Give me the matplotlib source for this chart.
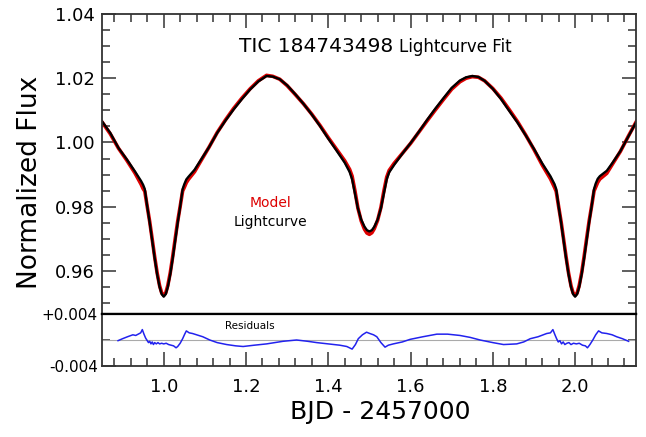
import matplotlib
matplotlib.use("Agg")
import matplotlib.pyplot as plt
from matplotlib.ticker import MultipleLocator, FixedLocator

# phase/time grid (BJD - 2457000), lightcurve and model
bjd = [0.850, 0.870, 0.890, 0.910, 0.930, 0.945, 0.950, 0.954, 0.960, 0.966,
       0.972, 0.978, 0.984, 0.990, 0.995, 1.000, 1.005, 1.010, 1.016, 1.022,
       1.028, 1.034, 1.040, 1.046, 1.050, 1.055, 1.060, 1.075, 1.090, 1.110,
       1.130, 1.150, 1.170, 1.190, 1.210, 1.230, 1.250, 1.265, 1.282, 1.300,
       1.320, 1.340, 1.360, 1.380, 1.400, 1.420, 1.440, 1.452, 1.458, 1.465,
       1.472, 1.480, 1.488, 1.494, 1.500, 1.506, 1.512, 1.520, 1.528, 1.535,
       1.542, 1.548, 1.560, 1.580, 1.600, 1.620, 1.640, 1.660, 1.680, 1.700,
       1.720, 1.735, 1.750, 1.765, 1.780, 1.800, 1.820, 1.840, 1.860, 1.880,
       1.900, 1.920, 1.940, 1.950, 1.954, 1.960, 1.966, 1.972, 1.978, 1.984,
       1.990, 1.995, 2.000, 2.005, 2.010, 2.016, 2.022, 2.028, 2.034, 2.040,
       2.046, 2.050, 2.055, 2.060, 2.077, 2.090, 2.110, 2.130, 2.150]

lightcurve = [1.0066, 1.0030, 0.9983, 0.9948, 0.9910, 0.9880, 0.9868, 0.9855, 0.9800, 0.9750,
              0.9695, 0.9640, 0.9590, 0.9550, 0.9528, 0.9520, 0.9528, 0.9550, 0.9590, 0.9640,
              0.9695, 0.9750, 0.9800, 0.9855, 0.9870, 0.9885, 0.9893, 0.9915, 0.9945, 0.9985,
              1.0030, 1.0068, 1.0103, 1.0135, 1.0165, 1.0190, 1.0207, 1.0205, 1.0197, 1.0178,
              1.0150, 1.0120, 1.0087, 1.0051, 1.0012, 0.9975, 0.9937, 0.9908, 0.9885, 0.9840,
              0.9795, 0.9760, 0.9738, 0.9727, 0.9723, 0.9727, 0.9738, 0.9760, 0.9795, 0.9840,
              0.9885, 0.9907, 0.9930, 0.9965, 0.9998, 1.0033, 1.0070, 1.0105, 1.0138, 1.0170,
              1.0193, 1.0203, 1.0207, 1.0204, 1.0192, 1.0167, 1.0135, 1.0098, 1.0062, 1.0022,
              0.9980, 0.9935, 0.9895, 0.9870, 0.9855, 0.9800, 0.9750, 0.9695, 0.9640, 0.9590,
              0.9550, 0.9528, 0.9520, 0.9528, 0.9550, 0.9590, 0.9640, 0.9695, 0.9750, 0.9800,
              0.9855, 0.9872, 0.9887, 0.9895, 0.9912, 0.9935, 0.9973, 1.0020, 1.0067]

model = [1.0064, 1.0027, 0.9982, 0.9945, 0.9905, 0.9870, 0.9856, 0.9848, 0.9800, 0.9753,
         0.9699, 0.9644, 0.9594, 0.9554, 0.9532, 0.9524, 0.9532, 0.9555, 0.9595, 0.9646,
         0.9701, 0.9755, 0.9801, 0.9849, 0.9860, 0.9875, 0.9885, 0.9909, 0.9942, 0.9985,
         1.0031, 1.0070, 1.0106, 1.0138, 1.0167, 1.0192, 1.0209, 1.0206, 1.0197, 1.0177,
         1.0149, 1.0120, 1.0088, 1.0053, 1.0015, 0.9979, 0.9943, 0.9916, 0.9895, 0.9848,
         0.9796, 0.9756, 0.9730, 0.9718, 0.9714, 0.9719, 0.9732, 0.9758, 0.9798, 0.9848,
         0.9892, 0.9913, 0.9935, 0.9966, 0.9997, 1.0032, 1.0067, 1.0101, 1.0134, 1.0166,
         1.0189, 1.0200, 1.0205, 1.0203, 1.0192, 1.0168, 1.0138, 1.0102, 1.0065, 1.0023,
         0.9978, 0.9930, 0.9887, 0.9860, 0.9848, 0.9800, 0.9753, 0.9699, 0.9644, 0.9594,
         0.9554, 0.9532, 0.9524, 0.9532, 0.9555, 0.9595, 0.9646, 0.9701, 0.9755, 0.9801,
         0.9849, 0.9861, 0.9876, 0.9886, 0.9904, 0.9931, 0.9972, 1.0021, 1.0068]

res_bjd = [0.889, 0.900, 0.912, 0.925, 0.932, 0.938, 0.944, 0.948, 0.952, 0.956,
           0.960, 0.963, 0.966, 0.969, 0.972, 0.975, 0.978, 0.982, 0.986, 0.990,
           0.995, 1.000, 1.006, 1.012, 1.018, 1.024, 1.030, 1.034, 1.040, 1.046,
           1.051, 1.055, 1.062, 1.070, 1.080, 1.095, 1.112, 1.130, 1.153, 1.175,
           1.193, 1.220, 1.250, 1.290, 1.323, 1.350, 1.372, 1.400, 1.428, 1.445,
           1.458, 1.466, 1.473, 1.483, 1.493, 1.501, 1.510, 1.518, 1.528, 1.538,
           1.546, 1.558, 1.580, 1.599, 1.630, 1.664, 1.690, 1.720, 1.745, 1.769,
           1.800, 1.826, 1.858, 1.875, 1.891, 1.910, 1.931, 1.940, 1.946, 1.951,
           1.955, 1.959, 1.963, 1.967, 1.971, 1.975, 1.980, 1.985, 1.990, 1.996,
           2.003, 2.010, 2.018, 2.025, 2.030, 2.036, 2.043, 2.050, 2.057, 2.065,
           2.077, 2.090, 2.101, 2.115, 2.130]

residuals = [-0.0001, 0.0002, 0.0005, 0.0008, 0.0007, 0.0009, 0.0011, 0.0016, 0.0009, 0.0003,
             -0.0001, -0.0004, -0.0002, -0.0006, -0.0003, -0.0007, -0.0004, -0.0006, -0.0004, -0.0006,
             -0.0005, -0.0006, -0.0005, -0.0007, -0.0008, -0.0009, -0.0012, -0.0010, -0.0005, 0.0002,
             0.0009, 0.0014, 0.0011, 0.0010, 0.0008, 0.0005, 0.0000, -0.0004, -0.0007, -0.0009,
             -0.0010, -0.0008, -0.0006, -0.0002, 0.0000, -0.0002, -0.0004, -0.0006, -0.0008, -0.0010,
             -0.0014, -0.0007, 0.0002, 0.0008, 0.0012, 0.0010, 0.0008, 0.0005, -0.0004, -0.0011,
             -0.0008, -0.0006, -0.0003, 0.0001, 0.0005, 0.0009, 0.0009, 0.0007, 0.0004, 0.0000,
             -0.0004, -0.0007, -0.0006, -0.0003, 0.0002, 0.0005, 0.0010, 0.0011, 0.0016, 0.0008,
             0.0002, -0.0003, -0.0001, -0.0006, -0.0003, -0.0007, -0.0005, -0.0004, -0.0007, -0.0005,
             -0.0006, -0.0005, -0.0008, -0.0009, -0.0012, -0.0007, 0.0000, 0.0008, 0.0014, 0.0011,
             0.0010, 0.0008, 0.0005, 0.0002, -0.0002]

plt.rcParams['font.family'] = ['DejaVu Sans']
frame = '#333333'

fig = plt.figure(figsize=(6.46, 4.37), dpi=100)
ax = fig.add_axes([102/646, 1 - 314/437, 534/646, 300/437])
ax_r = fig.add_axes([102/646, 1 - 366/437, 534/646, 52/437])

ax.plot(bjd, model, color='#dd0000', lw=2.6, solid_capstyle='round')
ax.plot(bjd, lightcurve, color='black', lw=1.7)
ax.set_xlim(0.85, 2.148)
ax.set_ylim(0.9466, 1.04)
ax.xaxis.set_major_locator(MultipleLocator(0.2))
ax.xaxis.set_minor_locator(MultipleLocator(0.04))
ax.yaxis.set_major_locator(MultipleLocator(0.02))
ax.yaxis.set_minor_locator(MultipleLocator(0.005))
ax.yaxis.set_major_formatter(plt.FormatStrFormatter('%.2f'))
ax.tick_params(which='both', direction='in', top=True, bottom=False, right=True,
               labelbottom=False, labelsize=13, color=frame, width=1.1, pad=5)
ax.tick_params(which='major', length=10)
ax.tick_params(which='minor', length=6)
for s in ax.spines.values():
    s.set_color(frame)
    s.set_linewidth(1.3)
ax.spines['bottom'].set_color('black')
ax.spines['bottom'].set_linewidth(1.6)

ax.text(0.545, 0.873, 'TIC 184743498', transform=ax.transAxes, ha='right',
        va='baseline', fontsize=14.5)
ax.text(0.556, 0.873, 'Lightcurve Fit', transform=ax.transAxes, ha='left',
        va='baseline', fontsize=12)
ax.text(0.316, 0.37, 'Model', transform=ax.transAxes, ha='center', va='center',
        fontsize=10, color='#dd0000')
ax.text(0.316, 0.307, 'Lightcurve', transform=ax.transAxes, ha='center',
        va='center', fontsize=10)

ax_r.axhline(0, color='#aaaaaa', lw=0.8)
ax_r.plot(res_bjd, residuals, color='#2222ee', lw=1.1)
ax_r.set_xlim(0.85, 2.148)
ax_r.set_ylim(-0.004, 0.004)
ax_r.xaxis.set_major_locator(MultipleLocator(0.2))
ax_r.xaxis.set_minor_locator(MultipleLocator(0.04))
ax_r.xaxis.set_major_formatter(plt.FormatStrFormatter('%.1f'))
ax_r.yaxis.set_major_locator(FixedLocator([-0.004, 0.004]))
ax_r.yaxis.set_minor_locator(FixedLocator([0.0]))
ax_r.set_yticklabels(['-0.004', '+0.004'])
ax_r.tick_params(which='both', direction='in', top=False, right=True,
                 labelsize=13, color=frame, width=1.1)
ax_r.tick_params(axis='x', pad=9)
ax_r.tick_params(axis='y', labelsize=11, pad=3)
ax_r.tick_params(which='major', length=10)
ax_r.tick_params(which='minor', length=6)
for s in ax_r.spines.values():
    s.set_color(frame)
    s.set_linewidth(1.3)
ax_r.spines['top'].set_color('black')
ax_r.spines['top'].set_linewidth(1.6)
ax_r.text(1.209, 0.0021, 'Residuals', ha='center', va='center', fontsize=7.5)

fig.text(380/646, 1 - 412/437, 'BJD - 2457000', ha='center', va='center', fontsize=18)
fig.text(30/646, 1 - 182/437, 'Normalized Flux', ha='center', va='center',
         rotation=90, fontsize=19)

fig.savefig('out.png', dpi=100)
